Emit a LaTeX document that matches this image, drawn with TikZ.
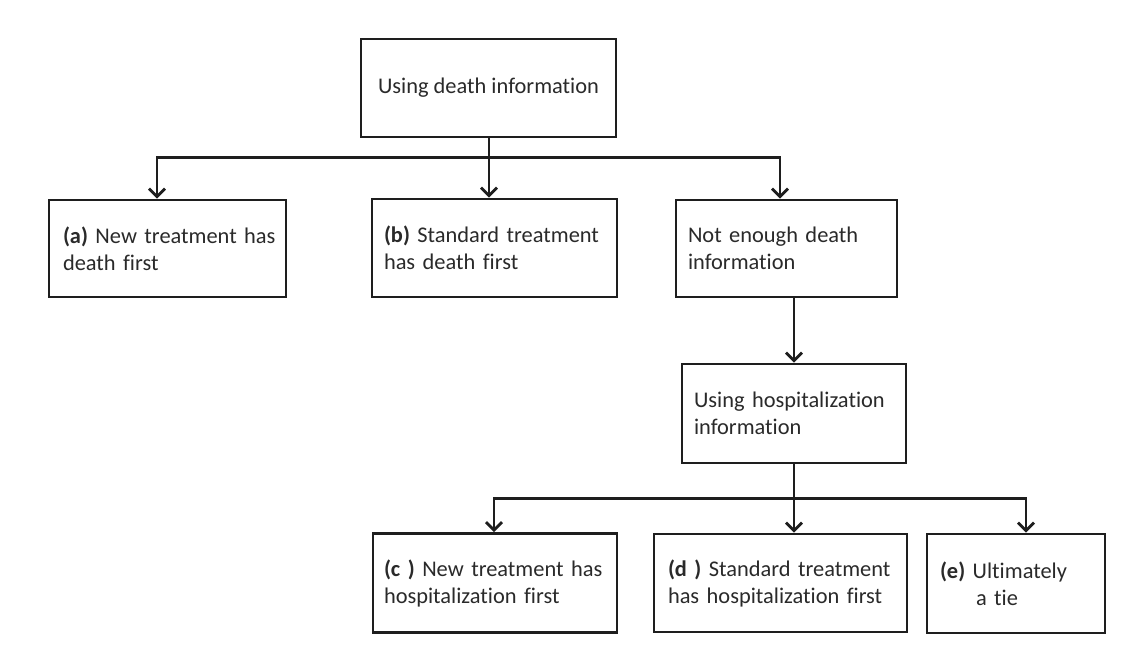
\documentclass[tikz,border=0pt]{standalone}
\usepackage{fontspec}
\setmainfont{Carlito}[Ligatures=NoCommon]
\usetikzlibrary{arrows.meta}
\definecolor{ink}{HTML}{1E1E1E}
\definecolor{txt}{HTML}{2A2A2A}
\tikzset{
  box/.style={draw=ink, line width=2.8pt, fill=white, align=left, inner xsep=12pt, inner ysep=0pt,
    font=\fontsize{22.4}{27}\selectfont, text=txt},
  arr/.style={draw=ink, line width=2.8pt, -{Straight Barb[length=8pt,width=16pt,line width=2.8pt]}},
  ln/.style={draw=ink, line width=2.8pt},
}
\begin{document}
\begin{tikzpicture}[x=1pt,y=-1pt]
\useasboundingbox (0,0) rectangle (1130,656);
\fill[white] (0,0) rectangle (1130,656);
\node[box, minimum width=255pt, minimum height=98pt, align=center] (top) at (488.5,88) {Using death information};
\node[box, minimum width=237pt, minimum height=97pt, text width=209pt, inner xsep=14pt] (a) at (167.5,248.5) {\mbox{\textbf{(a)} New treatment has}\\\mbox{death first}};
\node[box, minimum width=245pt, minimum height=98pt, text width=221pt] (b) at (494.5,248) {\mbox{\textbf{(b)} Standard treatment}\\\mbox{has death first}};
\node[box, minimum width=221pt, minimum height=97pt, text width=197pt] (c) at (786.5,248.5) {\mbox{Not enough death}\\\mbox{information}};
\node[box, minimum width=224pt, minimum height=99pt, text width=200pt] (hosp) at (794,413.5) {\mbox{Using hospitalization}\\\mbox{information}};
\node[box, minimum width=244pt, minimum height=99pt, text width=222pt, inner xsep=11pt] (cc) at (495,583) {\mbox{\textbf{(c )} New treatment has}\\\mbox{hospitalization first}};
\node[box, minimum width=253pt, minimum height=98pt, text width=225pt, inner xsep=14pt] (d) at (780.5,583) {\mbox{\textbf{(d )} Standard treatment}\\\mbox{has hospitalization first}};
\node[box, minimum width=178pt, minimum height=99pt, text width=152pt, inner xsep=13pt] (e) at (1016,583.5) {\mbox{\textbf{(e)} Ultimately}\\\hspace*{36pt}a tie};
% top level connectors
\coordinate (j1) at ([xshift=0.5pt,yshift=-19pt]top.south);
\draw[ln] ([xshift=0.5pt]top.south) -- (j1);
\draw[arr] (j1) -- (j1 |- b.north);
\draw[arr] (j1) -| ([xshift=-10.5pt]a.north);
\draw[arr] (j1) -| ([xshift=-6.5pt]c.north);
% middle
\draw[arr] (hosp.north |- c.south) -- (hosp.north);
% bottom level
\coordinate (j2) at ([yshift=-34pt]hosp.south);
\draw[ln] (hosp.south) -- (j2);
\draw[arr] (j2) -- (j2 |- d.north);
\draw[arr] (j2) -| ([xshift=-1pt]cc.north);
\draw[arr] (j2) -| ([xshift=10pt]e.north);
\end{tikzpicture}
\end{document}
